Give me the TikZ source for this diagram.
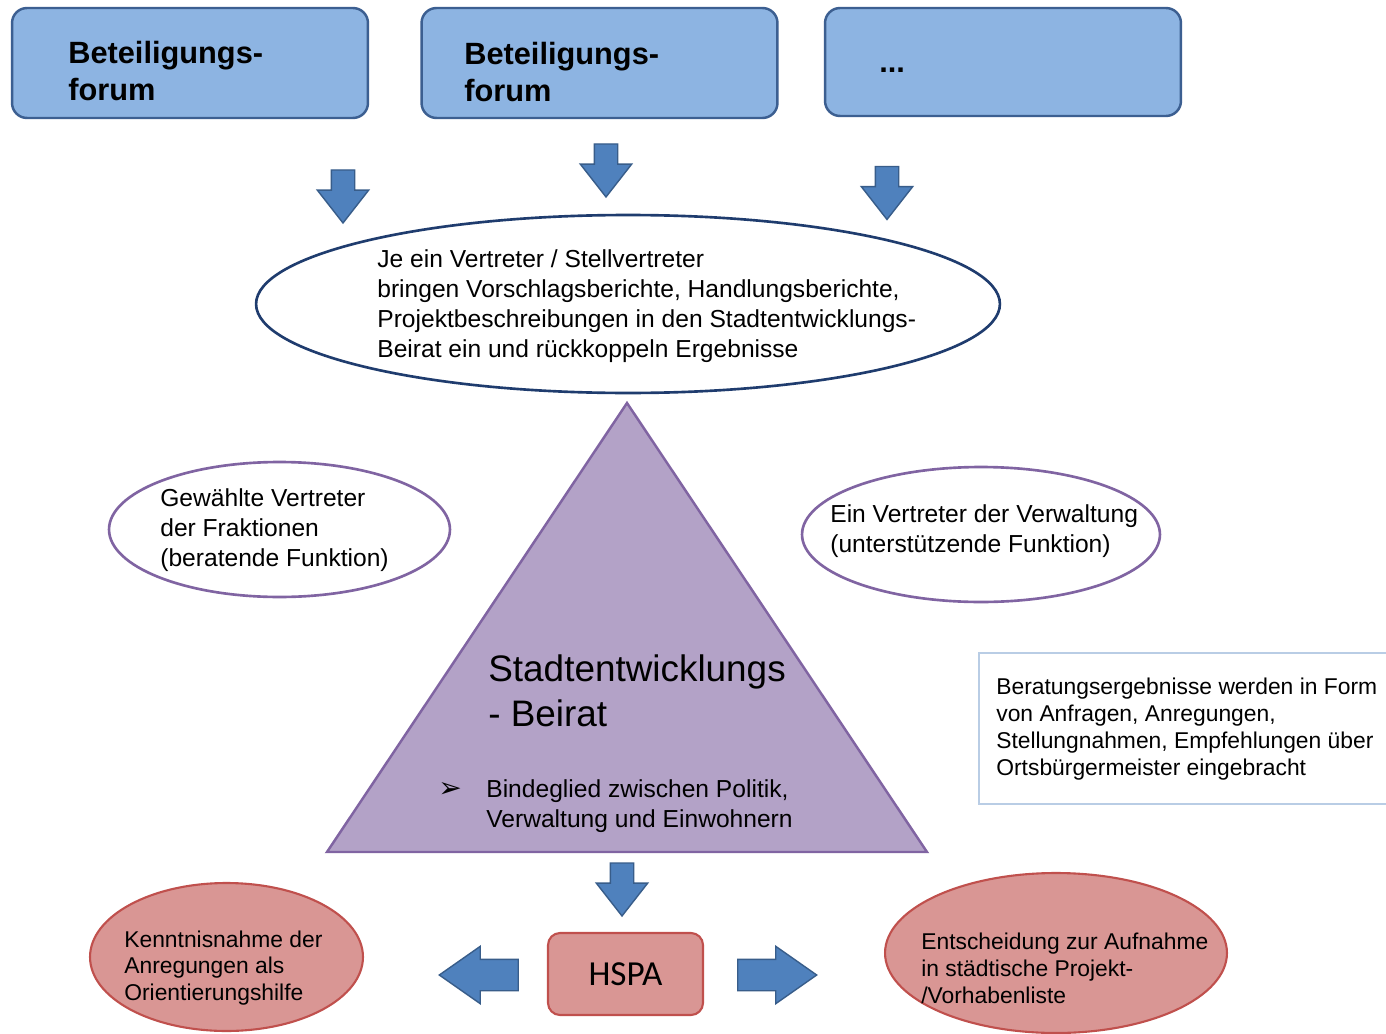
\documentclass[tikz,border=0pt]{standalone}
\usepackage{fontspec}
\setmainfont{Liberation Sans}
\newfontfamily\hspafont{Carlito}
\newfontfamily\symfont{DejaVu Sans}
\usetikzlibrary{shapes.geometric,shapes.arrows}
\definecolor{forumblue}{RGB}{141,180,226}
\definecolor{forumline}{RGB}{60,95,145}
\definecolor{arrowblue}{RGB}{79,129,189}
\definecolor{arrowline}{RGB}{56,93,138}
\definecolor{ovalline}{RGB}{31,60,110}
\definecolor{beiratfill}{RGB}{179,162,199}
\definecolor{beiratline}{RGB}{128,100,162}
\definecolor{roseline}{RGB}{192,80,77}
\definecolor{rosefill}{RGB}{217,150,148}
\definecolor{noteline}{RGB}{185,205,229}
\tikzset{
  forum/.style={draw=forumline,line width=1.4pt,fill=forumblue,rounded corners=0.3cm,
    minimum width=7.12cm,minimum height=2.2cm,inner sep=0},
  downarr/.style={single arrow,draw=arrowline,line width=0.8pt,fill=arrowblue,
    inner sep=0.22cm,single arrow head extend=0.28cm,single arrow tip angle=76,
    minimum height=1.06cm,rotate=-90},
  sidearr/.style={single arrow,draw=arrowline,line width=0.8pt,fill=arrowblue,
    inner sep=0.3cm,single arrow head extend=0.26cm,single arrow tip angle=70,
    minimum height=1.58cm},
  oval/.style={ellipse,draw,line width=1.5pt,fill=white,inner sep=0},
  roseoval/.style={ellipse,draw=roseline,line width=1.2pt,fill=rosefill,inner sep=0},
  txt/.style={anchor=west,align=left,inner sep=0,font=\fontsize{14}{17}\selectfont},
  smalltxt/.style={anchor=west,align=left,inner sep=0,font=\fontsize{13}{15.3}\selectfont},
  forumtxt/.style={anchor=west,align=left,inner sep=0,font=\bfseries\fontsize{17.5}{21.5}\selectfont}
}
\begin{document}
\begin{tikzpicture}[x=0.02cm,y=-0.02cm]
\clip (0,0) rectangle (1386,1034);
\fill[white] (0,0) rectangle (1386,1034);
\node[forum] (forum1) at (190,63) {};
\node[forumtxt] (forum1-t) at (68,71) {Beteiligungs-\\forum};
\node[forum] (forum2) at (599.5,63) {};
\node[forumtxt] (forum2-t) at (464,72) {Beteiligungs-\\forum};
\node[forum,minimum height=2.16cm] (forum3) at (1003,62) {};
\node[forumtxt] (forum3-t) at (879,70) {...};
\node[downarr] (arr1) at (343,189) {};
\node[downarr] (arr2) at (606,163) {};
\node[downarr] (arr3) at (887,185.5) {};
\node[oval,draw=ovalline,minimum width=14.88cm,minimum height=3.56cm] (vertreter) at (628,304) {};
\node[txt] (vertreter-t) at (377,306) {Je ein Vertreter / Stellvertreter\\bringen Vorschlagsberichte, Handlungsberichte,\\Projektbeschreibungen in den Stadtentwicklungs-\\Beirat ein und rückkoppeln Ergebnisse};
\draw[fill=beiratfill,draw=beiratline,line width=1.4pt,line join=miter] (627,403) -- (927,852) -- (327,852) -- cycle;
\node[anchor=west,align=left,inner sep=0,font=\fontsize{21}{25.6}\selectfont] (beirat) at (488,691) {Stadtentwicklungs\\- Beirat};
\node[anchor=west,inner sep=0,font=\symfont\fontsize{16}{18}\selectfont] (bullet) at (438,790) {➢};
\node[txt] (binde) at (486,806) {Bindeglied zwischen Politik,\\Verwaltung und Einwohnern};
\node[oval,draw=beiratline,minimum width=6.82cm,minimum height=2.7cm] (fraktion) at (279.5,529.5) {};
\node[txt] (fraktion-t) at (160,530) {Gewählte Vertreter\\der Fraktionen\\(beratende Funktion)};
\node[oval,draw=beiratline,minimum width=7.16cm,minimum height=2.7cm] (verwaltung) at (981,534.5) {};
\node[txt] (verwaltung-t) at (830,531) {Ein Vertreter der Verwaltung\\(unterstützende Funktion)};
\node[draw=noteline,line width=1.4pt,minimum width=8.26cm,minimum height=3.02cm,inner sep=0] (note) at (1185.5,728.5) {};
\node[smalltxt] (note-t) at (996,729) {Beratungsergebnisse werden in Form\\von Anfragen, Anregungen,\\Stellungnahmen, Empfehlungen über\\Ortsbürgermeister eingebracht};
\node[downarr] (arr4) at (622,882) {};
\node[draw=roseline,line width=1.2pt,fill=rosefill,rounded corners=0.24cm,minimum width=3.1cm,minimum height=1.64cm,
  font=\hspafont\fontsize{20}{24}\selectfont] (hspa) at (625.5,974) {HSPA};
\node[sidearr,rotate=180] (arrl) at (490,975) {};
\node[sidearr] (arrr) at (766,975) {};
\node[roseoval,minimum width=5.46cm,minimum height=2.96cm] (kenntnis) at (226.5,957) {};
\node[smalltxt] (kenntnis-t) at (124,968) {Kenntnisnahme der\\Anregungen als\\Orientierungshilfe};
\node[roseoval,minimum width=6.84cm,minimum height=3.2cm] (entscheid) at (1056,953) {};
\node[smalltxt] (entscheid-t) at (921,968) {Entscheidung zur Aufnahme\\in städtische Projekt-\\/Vorhabenliste};
\end{tikzpicture}
\end{document}
